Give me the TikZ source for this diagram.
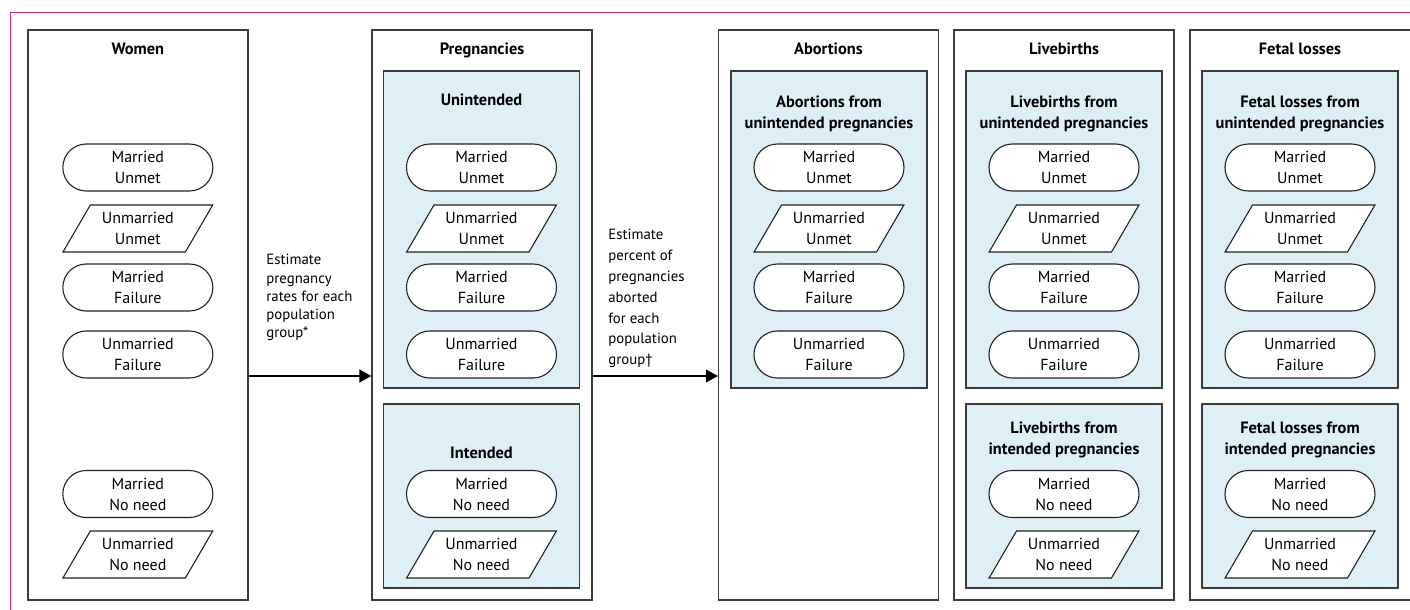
\documentclass[tikz,border=0pt]{standalone}
\usepackage{fontspec}
\setmainfont{PT Sans}
\usetikzlibrary{shapes.geometric,arrows.meta}
\definecolor{lpink}{RGB}{213,45,95}
\definecolor{lblue}{RGB}{222,239,246}
\definecolor{boxline}{RGB}{60,60,60}
\definecolor{nodeline}{RGB}{35,35,35}
\newcommand\rowsU[2]{%
  \node[stad] (#1mu) at (#2,167.5) {Married\\Unmet};
  \node[para] (#1uu) at (#2,228.5) {Unmarried\\Unmet};
  \node[stad] (#1mf) at (#2,287.5) {Married\\Failure};
  \node[stad] (#1uf) at (#2,354.5) {Unmarried\\Failure};
}
\newcommand\rowsI[2]{%
  \node[stad] (#1mn) at (#2,494) {Married\\No need};
  \node[para] (#1un) at (#2,554.5) {Unmarried\\No need};
}
\begin{document}
\begin{tikzpicture}[x=0.5pt,y=-0.5pt,
  outerbox/.style={draw=boxline,line width=0.65pt,minimum width=110pt,minimum height=285pt,inner sep=0pt},
  bluebox/.style={draw=boxline,line width=0.6pt,fill=lblue,minimum width=98pt,inner sep=0pt},
  title/.style={font=\bfseries\fontsize{8.2}{10.5}\selectfont,align=center,inner sep=0pt},
  stad/.style={draw=nodeline,fill=white,line width=0.55pt,rounded corners=11.7pt,minimum width=75pt,minimum height=23.5pt,inner sep=0pt,align=center,font=\fontsize{8}{10.5}\selectfont},
  para/.style={draw=nodeline,fill=white,line width=0.55pt,trapezium,trapezium left angle=57.45,trapezium right angle=122.55,trapezium stretches=true,minimum width=75pt,minimum height=23.5pt,inner sep=0pt,align=center,font=\fontsize{8}{10.5}\selectfont},
  lbl/.style={align=left,inner sep=0pt,anchor=north west},
  arr/.style={-{Triangle[length=6pt,width=6.5pt]},line width=0.55pt,draw=black}
]
\useasboundingbox (0,0) rectangle (1410,610);
\clip (0,0) rectangle (1410,610);
% frame
\draw[lpink,line width=0.6pt] (10.7,612) -- (10.7,12.3) -- (1412,12.3);
% outer boxes
\node[outerbox] (women) at (137.85,315) {};
\node[outerbox] (preg) at (482,315) {};
\node[outerbox] (abort) at (828.5,315) {};
\node[outerbox] (live) at (1064,315) {};
\node[outerbox,minimum width=111pt] (fetal) at (1301,315) {};
% titles
\node[title,anchor=base] (twomen) at (137.85,55) {Women};
\node[title,anchor=base] (tpreg) at (482,55) {Pregnancies};
\node[title,anchor=base] (tabort) at (828.5,55) {Abortions};
\node[title,anchor=base] (tlive) at (1064,55) {Livebirths};
\node[title,anchor=base] (tfetal) at (1300,55) {Fetal losses};
% blue boxes
\node[bluebox,minimum height=158.5pt] (pregU) at (481.5,229.5) {};
\node[bluebox,minimum height=92pt] (pregI) at (481.5,496) {};
\node[bluebox,minimum height=158.5pt] (abortU) at (829,229.5) {};
\node[bluebox,minimum height=158.5pt] (liveU) at (1064,229.5) {};
\node[bluebox,minimum height=92pt] (liveI) at (1064,496) {};
\node[bluebox,minimum height=158.5pt] (fetalU) at (1300,229.5) {};
\node[bluebox,minimum height=92pt] (fetalI) at (1300,496) {};
% blue titles
\node[title,anchor=base] (tpregU) at (481.5,106) {Unintended};
\node[title,anchor=base] (tpregI) at (481.5,458) {Intended};
\node[title] (tabortU) at (829,114) {Abortions from\\unintended pregnancies};
\node[title] (tliveU) at (1064,114) {Livebirths from\\unintended pregnancies};
\node[title] (tliveI) at (1064,440) {Livebirths from\\intended pregnancies};
\node[title] (tfetalU) at (1300,114) {Fetal losses from\\unintended pregnancies};
\node[title] (tfetalI) at (1300,440) {Fetal losses from\\intended pregnancies};
% population nodes
\rowsU{w}{137.85}
\rowsI{w}{137.85}
\rowsU{p}{481.5}
\rowsI{p}{481.5}
\rowsU{a}{829}
\rowsU{l}{1064}
\rowsI{l}{1064}
\rowsU{f}{1300}
\rowsI{f}{1300}
% arrows and labels
\coordinate (ay) at (0,376);
\draw[arr] (women.east |- ay) -- (preg.west |- ay);
\draw[arr] (preg.east |- ay) -- (abort.west |- ay);
\node[lbl,font=\fontsize{7.4}{9.1}\selectfont] (lab1) at (266,254) {Estimate\\pregnancy\\rates for each\\population\\group*};
\node[lbl,font=\fontsize{7.4}{10.4}\selectfont] (lab2) at (608,229) {Estimate\\percent of\\pregnancies\\aborted\\for each\\population\\group\textdagger};
\end{tikzpicture}
\end{document}
